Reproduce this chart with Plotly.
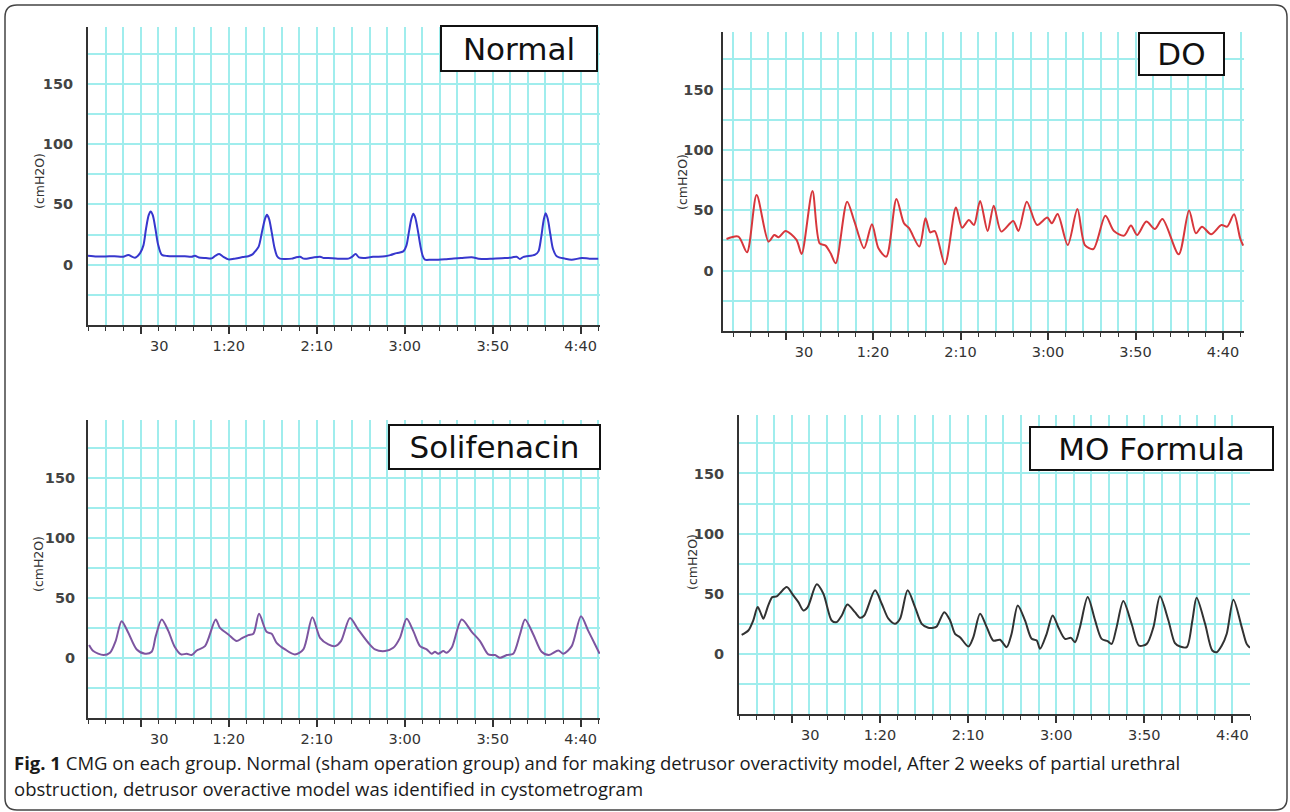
import plotly.graph_objects as go

W, H = 1290, 812

# ---------------- data (time in s, pressure in cmH2O) ----------------
normal_t = [0, 5, 10, 15, 20, 22.9, 26.7, 29.6, 31.5, 33.0, 34.5, 35.6, 36.8, 38.3, 39.8, 41.9,
            45, 50, 55, 58.9, 60.8, 63, 67, 70.3, 72.5, 74.6, 77, 79.8, 84, 88, 91.1, 93.5,
            95, 97, 99, 100.6, 101.7, 102.9, 104.4, 106, 107.5, 109.1,
            112, 115.8, 118, 120.5, 122.5, 124.3, 128, 131.9, 134, 136.6, 142, 148, 150, 152.1,
            154, 156.5, 162, 168.8, 172, 175.4, 179.2, 181, 182.5, 183.8, 184.9, 186, 187.5, 189,
            190.3, 191.5, 195, 199.1, 203, 206.7, 212, 218.1, 222, 225.6, 230, 237, 241, 243.6,
            245.5, 247.5, 249.3, 254.1, 256, 257.5, 259, 260.1, 261.3, 262.8, 264.3, 266.4,
            271.1, 274.9, 280.6, 285, 290]
normal_p = [7.5, 6.8, 6.8, 7.0, 6.6, 8.0, 5.8, 9.6, 16, 30, 41, 44, 41, 30, 17, 8.3,
            7.2, 7.0, 7.0, 6.6, 7.4, 6.0, 5.5, 5.2, 7.5, 8.8, 6.5, 4.4, 5.2, 6.3, 7.0, 8.5,
            11, 15, 28, 38, 41.3, 38, 27, 14, 7, 5.0,
            4.7, 5.0, 6.0, 6.6, 5.0, 5.0, 6.0, 6.6, 5.5, 5.5, 5.0, 5.0, 6.5, 8.8,
            6.0, 5.5, 6.5, 6.9, 8.0, 9.6, 11, 16, 28, 38, 42.2, 39, 28, 15,
            7, 4.1, 4.1, 4.1, 4.5, 5.0, 5.5, 6.1, 5.0, 4.7, 5.0, 5.5, 6.0, 6.6,
            4.7, 6.5, 6.9, 8.3, 11, 22, 37, 42.7, 38, 25, 13, 7,
            5.0, 4.1, 5.5, 5.0, 5.0]

do_t = [-3.7, 3.1, 8.0, 13.5, 20.3, 23.6, 26.1, 30.0, 36.3, 39.2, 45.4, 49.5, 52.9, 55.8, 58.7,
        65.2, 69.4, 74.9, 79.4, 83.1, 87.6, 93.4, 97.7, 100.6, 106.5, 110.0, 112.7, 115.3, 121.1,
        127.4, 130.9, 134.8, 137.7, 141.2, 145.5, 149.0, 153.3, 160.1, 163.1, 167.9, 173.8, 179.6,
        182.2, 185.5, 191.3, 196.8, 201.1, 205.9, 212.8, 217.7, 223.5, 227.4, 230.9, 236.2, 241.1,
        245.4, 254.7, 260.6, 264.5, 268.0, 273.2, 279.1, 282.4, 286.3, 289.8, 291.5]
do_p = [26.2, 28.2, 15.2, 62.6, 24.0, 29.5, 27.6, 32.8, 25.4, 13.8, 66.0, 22.6, 20.7, 14.3, 6.1,
        57.1, 40.6, 18.5, 38.4, 18.5, 11.6, 59.3, 39.2, 35.1, 19.9, 43.3, 31.7, 32.8, 5.3,
        52.2, 35.6, 41.9, 37.8, 57.7, 32.8, 53.8, 32.3, 41.1, 32.8, 57.1, 37.8, 43.9,
        39.2, 46.9, 21.2, 51.0, 21.2, 17.9, 45.5, 32.8, 29.0, 37.3, 29.5, 40.6, 34.5,
        42.8, 13.5, 49.7, 30.9, 36.4, 30.1, 37.8, 36.4, 46.6, 26.8, 20.7]

sol_t = [0.6, 3.0, 8.7, 12.5, 15.7, 19.1, 22.9, 27.7, 32.4, 36.2, 38.5, 41.9, 45.7, 49.1, 52.9,
         56.1, 58.9, 61.8, 66.5, 72.6, 75.0, 79.8, 84.5, 87.3, 91.1, 94.0, 97.2, 101.5, 104.4,
         107.2, 112.0, 117.6, 122.4, 127.5, 131.9, 136.6, 140.4, 143.8, 148.9, 153.6, 159.3,
         163.1, 168.8, 173.5, 177.3, 181.1, 184.9, 188.7, 192.5, 195.3, 197.2, 199.1, 202.0,
         203.8, 206.7, 212.4, 218.1, 222.8, 227.5, 231.3, 234.2, 238.0, 241.7, 245.5, 248.4,
         253.1, 257.8, 262.0, 267.3, 270.2, 274.9, 280.2, 284.4, 288.2, 290.8]
sol_p = [10.7, 5.7, 2.4, 4.3, 14.0, 30.6, 20.9, 7.0, 3.5, 5.1, 18.1, 32.0, 22.3, 9.8, 2.9,
         3.5, 2.4, 6.2, 9.8, 32.0, 25.0, 19.5, 14.0, 16.2, 19.0, 20.1, 36.7, 21.7, 20.1,
         12.6, 7.1, 2.9, 7.1, 33.9, 16.7, 11.2, 9.8, 14.0, 33.3, 23.6, 12.6,
         7.1, 5.7, 8.4, 16.7, 32.5, 22.3, 9.8, 7.1, 3.5, 5.1, 3.5, 5.7,
         4.3, 8.4, 32.0, 21.7, 14.0, 2.9, 2.4, 0.1, 2.4, 3.5, 19.5, 32.0,
         19.5, 5.1, 2.4, 6.2, 3.5, 9.8, 34.7, 22.3, 11.2, 3.5]

mo_t = [1.5, 5.3, 8.1, 10.6, 12.5, 13.8, 16.6, 18.9, 21.4, 23.3, 27.1, 30.8, 33.7, 36.5, 39.0,
        44.1, 47.9, 52.6, 55.4, 58.3, 61.5, 65.8, 68.7, 71.1, 77.2, 81.0, 84.8, 88.5, 91.4,
        95.7, 99.9, 103.7, 107.4, 110.3, 112.2, 116.5, 119.8, 122.6, 125.4, 130.2, 133.0,
        136.8, 140.6, 144.3, 148.1, 151.9, 154.7, 158.2, 162.3, 166.1, 169.0, 170.8, 174.6,
        178.0, 181.2, 185.0, 188.4, 190.7, 193.5, 197.9, 202.1, 205.8, 209.2, 211.5, 214.3,
        218.1, 222.8, 227.0, 231.4, 235.2, 238.9, 243.7, 247.4, 250.3, 254.1, 257.3, 259.7,
        264.5, 268.6, 271.1, 274.0, 276.8, 280.6, 285.3, 288.1, 290.0]
mo_p = [15.8, 19.4, 27.8, 38.9, 33.3, 29.2, 40.3, 47.2, 47.8, 50.5, 55.5, 48.6, 43.0, 36.1, 38.9,
        57.8, 50.0, 27.8, 26.4, 31.9, 41.1, 34.7, 30.0, 31.9, 52.8, 41.7, 29.2, 25.0, 29.2,
        52.8, 38.9, 25.0, 21.7, 21.7, 22.8, 34.7, 27.8, 16.7, 13.9, 6.1, 13.9,
        33.3, 22.2, 11.1, 11.7, 5.6, 16.7, 40.3, 27.8, 12.5, 11.1, 4.2, 16.7,
        31.9, 22.2, 12.5, 13.3, 9.7, 22.2, 47.2, 27.8, 12.5, 10.6, 8.3, 22.2,
        43.9, 25.0, 6.9, 8.3, 22.2, 47.8, 27.8, 8.9, 6.1, 5.6, 27.8, 46.7,
        25.0, 2.8, 1.4, 6.9, 16.7, 45.0, 22.2, 8.3, 5.0]

x_tick_vals = [30, 80, 130, 180, 230, 280]
x_tick_text = ["\u00a0" * 8 + "30", "1:20", "2:10", "3:00", "3:50", "4:40"]
y_tick_vals = [0, 50, 100, 150]
y_tick_text = ["0", "50", "100", "150"]
panel_names = ["Normal", "DO", "Solifenacin", "MO Formula"]
y_title = "(cmH2O)"

caption_bold = "Fig. 1"
caption_line1 = (" CMG on each group. Normal (sham operation group) and for making detrusor "
                 "overactivity model, After 2 weeks of partial urethral")
caption_line2 = "obstruction, detrusor overactive model was identified in cystometrogram"

# ---------------- layout geometry (pixels) ----------------
panels = [
    dict(t=normal_t, p=normal_p, color="rgb(55,55,205)", xd=(88, 600), yd=(27, 325),
         xr=(0, 291), yr=(-50, 197), box=(440, 598, 25, 72), title=(40, 181), ystand=10),
    dict(t=do_t, p=do_p, color="rgb(215,55,60)", xd=(722.5, 1244), yd=(32, 331),
         xr=(-6, 292), yr=(-50, 197.6), box=(1138, 1225, 32, 76), title=(682, 182), ystand=4),
    dict(t=sol_t, p=sol_p, color="rgb(125,85,160)", xd=(88, 600), yd=(420, 718),
         xr=(0, 291), yr=(-50, 198), box=(388, 601, 424, 470), title=(38, 564), ystand=8),
    dict(t=mo_t, p=mo_p, color="rgb(50,50,50)", xd=(739, 1250), yd=(415, 714),
         xr=(0, 290), yr=(-50, 198.6), box=(1029, 1274, 426, 471), title=(692, 562), ystand=10),
]

def fx(px):
    return px / W

def fy(py):
    return 1 - py / H

GRID = "rgb(160,237,237)"
GW = 2
AXIS = "#333333"

fig = go.Figure()
annotations = []
for i, pn in enumerate(panels):
    k = "" if i == 0 else str(i + 1)
    fig.add_trace(go.Scatter(
        x=pn["t"], y=pn["p"], mode="lines",
        line=dict(color=pn["color"], width=2.0, shape="spline", smoothing=0.8),
        xaxis="x" + k, yaxis="y" + k, showlegend=False, hoverinfo="skip"))
    fig.layout["xaxis" + k] = dict(
        domain=[fx(pn["xd"][0]), fx(pn["xd"][1])], range=list(pn["xr"]), anchor="y" + k,
        tickmode="array", tickvals=x_tick_vals, ticktext=x_tick_text,
        ticks="outside", ticklen=7, tickwidth=1.5, tickcolor=AXIS,
        showgrid=True, gridcolor=GRID, gridwidth=GW, zeroline=False,
        showline=True, linecolor=AXIS, linewidth=2,
        tickfont=dict(family="DejaVu Sans", size=14.5, color="#333333"),
        minor=dict(tickmode="linear", tick0=0, dtick=10, ticks="outside", ticklen=4,
                   tickwidth=1.2, tickcolor=AXIS, showgrid=True, gridcolor=GRID, gridwidth=GW),
        fixedrange=True)
    fig.layout["yaxis" + k] = dict(
        domain=[fy(pn["yd"][1]), fy(pn["yd"][0])], range=list(pn["yr"]), anchor="x" + k,
        tickmode="array", tickvals=y_tick_vals, ticktext=y_tick_text,
        ticks="", showgrid=True, gridcolor=GRID, gridwidth=GW, zeroline=False,
        showline=True, linecolor=AXIS, linewidth=2, ticklabelstandoff=pn["ystand"],
        tickfont=dict(family="DejaVu Sans", size=14.5, color="#444444", weight="bold"),
        minor=dict(tickmode="linear", tick0=0, dtick=25, showgrid=True, gridcolor=GRID,
                   gridwidth=GW),
        fixedrange=True)
    # y axis title
    annotations.append(dict(
        x=fx(pn["title"][0]), y=fy(pn["title"][1]), xref="paper", yref="paper",
        text=y_title, textangle=-90, showarrow=False, xanchor="center", yanchor="middle",
        font=dict(family="DejaVu Sans", size=12.5, color="#333333")))
    # panel label box
    bx0, bx1, by0, by1 = pn["box"]
    annotations.append(dict(
        x=fx(bx1), y=fy(by0), xref="paper", yref="paper", xanchor="right", yanchor="top",
        text=panel_names[i], showarrow=False, width=bx1 - bx0 - 4, height=by1 - by0 - 4,
        align="center", valign="middle", bgcolor="white", bordercolor="#111111",
        borderwidth=2, borderpad=0,
        font=dict(family="DejaVu Sans", size=31, color="#111111")))

# caption
annotations.append(dict(
    x=fx(12), y=fy(762), xref="paper", yref="paper", xanchor="left", yanchor="middle",
    text="<b>" + caption_bold + "</b>" + caption_line1, showarrow=False,
    font=dict(family="Open Sans", size=18.5, color="#1a1a1a")))
annotations.append(dict(
    x=fx(12), y=fy(788), xref="paper", yref="paper", xanchor="left", yanchor="middle",
    text=caption_line2, showarrow=False,
    font=dict(family="Open Sans", size=18.5, color="#1a1a1a")))

# rounded outer frame
x0, x1, yt, yb = fx(5), fx(1287), fy(5), fy(810)
rx, ry = 12 / W, 12 / H
frame = (f"M {x0+rx},{yt} L {x1-rx},{yt} Q {x1},{yt} {x1},{yt-ry} L {x1},{yb+ry} "
         f"Q {x1},{yb} {x1-rx},{yb} L {x0+rx},{yb} Q {x0},{yb} {x0},{yb+ry} "
         f"L {x0},{yt-ry} Q {x0},{yt} {x0+rx},{yt} Z")

fig.update_layout(
    width=W, height=H, autosize=False,
    margin=dict(l=0, r=0, t=0, b=0),
    paper_bgcolor="white", plot_bgcolor="white",
    annotations=annotations,
    shapes=[dict(type="path", path=frame, xref="paper", yref="paper",
                 line=dict(color="#444444", width=1.5), layer="above")],
    showlegend=False,
)

fig.write_html("out.html", config={"displayModeBar": False},
               post_script="document.body.style.margin='0';document.body.style.overflow='hidden';")
